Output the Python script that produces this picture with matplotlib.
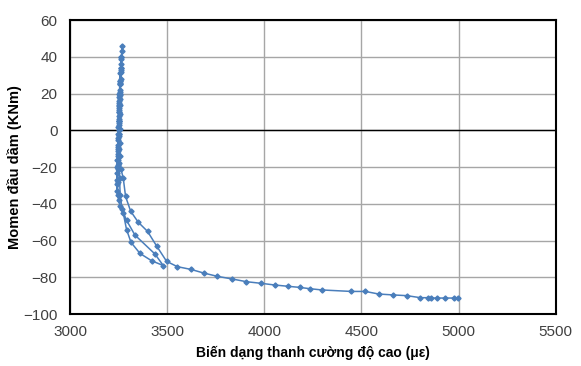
import matplotlib
matplotlib.use("Agg")
from matplotlib import pyplot as plt

plt.rcParams['font.family'] = ['Liberation Sans', 'DejaVu Sans']

# strain (micro-strain) and moment (kNm)
strain = [3250, 3251, 3252, 3253, 3254, 3252, 3250, 3249, 3247, 3246, 3245, 3244, 3246, 3248, 3250,
          3251, 3253, 3254, 3256, 3257, 3258, 3256, 3254, 3252, 3250, 3248, 3246, 3244, 3243, 3242,
          3241, 3243, 3246, 3248, 3250,
          3252, 3254, 3256, 3258, 3260, 3262, 3264, 3262, 3259, 3256, 3253, 3251, 3249, 3247, 3246,
          3245, 3246, 3250, 3257, 3274, 3291, 3314, 3360, 3420, 3480, 3437, 3334, 3291, 3268, 3258,
          3255, 3253, 3252, 3252,
          3254, 3256, 3258, 3260, 3262, 3264, 3267, 3269, 3265, 3262, 3259, 3257, 3256, 3255, 3255,
          3256, 3262, 3274, 3286, 3312, 3351, 3399, 3446, 3497, 3552, 3622, 3689,
          3759, 3834, 3908, 3985, 4054, 4122, 4182, 4234, 4297, 4448, 4520, 4588, 4662, 4734, 4803,
          4842, 4859, 4890, 4931, 4974, 4995]
moment = [0, 5, 10, 15, 20, 14, 8, 2, -4, -10, -16, -20, -14, -8, -2,
          4, 10, 16, 22, 27, 31, 25, 18, 12, 5, -2, -9, -16, -23, -29,
          -33, -27, -19, -11, -3,
          5, 13, 20, 26, 32, 36, 40, 34, 27, 19, 11, 3, -5, -13, -21,
          -28, -35, -38, -41, -45, -54, -61, -67, -71, -73.6, -67.3, -57, -49, -43, -35,
          -26, -18, -10, -2,
          6, 14, 21, 28, 34, 39, 43, 46, 40, 33, 25, 17, 9, 1, -7,
          -14, -21, -26, -36, -44, -50, -55, -63, -71.3, -74.2, -75.7, -77.7,
          -79.5, -80.9, -82.4, -83.3, -84.2, -84.9, -85.5, -86.2, -86.9, -87.7, -87.7, -89.1, -89.6, -90.0, -91.1,
          -91.1, -91.3, -91.3, -91.3, -91.3, -91.3]

xticks = [3000, 3500, 4000, 4500, 5000, 5500]
yticks = [-100, -80, -60, -40, -20, 0, 20, 40, 60]

fig = plt.figure(figsize=(5.81, 3.66), dpi=100)
ax = fig.add_axes([0.1205, 0.142, 0.836, 0.803])

ax.plot(strain, moment, color='#4a7ebb', lw=1.1, marker='D', ms=2.6, mec='#4a7ebb', mfc='#4a7ebb', zorder=3)

ax.set_xlim(3000, 5500)
ax.set_ylim(-100, 60)
ax.set_xticks(xticks)
ax.set_yticks(yticks)
ax.grid(True, color='#a6a6a6', lw=1)
ax.axhline(0, color='black', lw=1, zorder=2)
ax.tick_params(axis='x', length=0, labelsize=11, colors='#404040', pad=8)
ax.tick_params(axis='y', length=0, labelsize=11, colors='#404040', pad=9)
for s in ax.spines.values():
    s.set_linewidth(1.5)
    s.set_color('black')

ax.set_xlabel('Biến dạng thanh cường độ cao (με)', fontsize=10, fontweight='bold', labelpad=5)
ax.set_ylabel('Momen đầu dầm (KNm)', fontsize=10.5, fontweight='bold', labelpad=1)

fig.savefig('out.png', dpi=100)
